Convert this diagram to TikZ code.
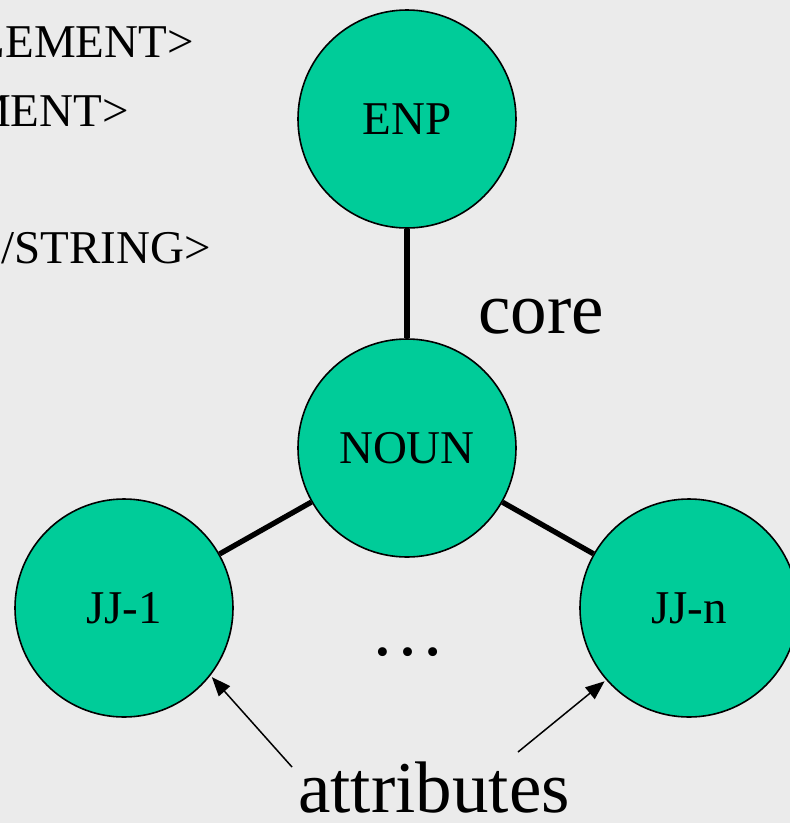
\documentclass[tikz,border=0pt]{standalone}
\usepackage{fontspec}
\setmainfont{Liberation Serif}
\usetikzlibrary{arrows.meta}
\definecolor{bgc}{RGB}{235,235,235}
\definecolor{nodegreen}{RGB}{0,204,153}
\begin{document}
\begin{tikzpicture}[x=1pt,y=-1pt,
  bubble/.style={circle,draw=black,line width=1.6pt,fill=nodegreen,minimum size=218pt,inner sep=0pt,
    font=\fontsize{47}{56}\selectfont},
  bond/.style={line width=5.3pt,black},
  pointer/.style={line width=1.5pt,shorten >=2pt,-{Triangle[length=19pt,width=15pt]}},
  codetext/.style={anchor=base east,inner sep=0pt,font=\fontsize{47}{56}\selectfont},
  bigtext/.style={inner sep=0pt,font=\fontsize{73}{88}\selectfont}]
\useasboundingbox (0,0) rectangle (790,823);
\fill[bgc] (0,0) rectangle (790,823);
\clip (0,0) rectangle (790,823);
% code lines at left
\node[codetext] (l1) at (194,57) {</ELEMENT>};
\node[codetext] (l2) at (129,126) {</ELEMENT>};
\node[codetext] (l3) at (211,263) {</STRING>};
% nodes
\node[bubble] (enp) at (407,119) {ENP};
\node[bubble] (noun) at (407,448) {NOUN};
\node[bubble] (jj1) at (124,608) {JJ-1};
\node[bubble] (jjn) at (689,608) {JJ-n};
% connectors
\draw[bond] (enp) -- (noun);
\draw[bond] (noun) -- (jj1);
\draw[bond] (noun) -- (jjn);
% labels
\node[bigtext,anchor=base] (core) at (541,333) {core};
\node[inner sep=0pt,anchor=base,font=\fontsize{75}{90}\selectfont] (dots) at (408,655) {…};
\node[bigtext,anchor=base] (attr) at (434,812) {attributes};
\coordinate (tl) at (292,767);
\coordinate (tr) at (518,752);
\draw[pointer] (tl) -- (jj1.-38);
\draw[pointer] (tr) -- (jjn.-139);
\end{tikzpicture}
\end{document}
